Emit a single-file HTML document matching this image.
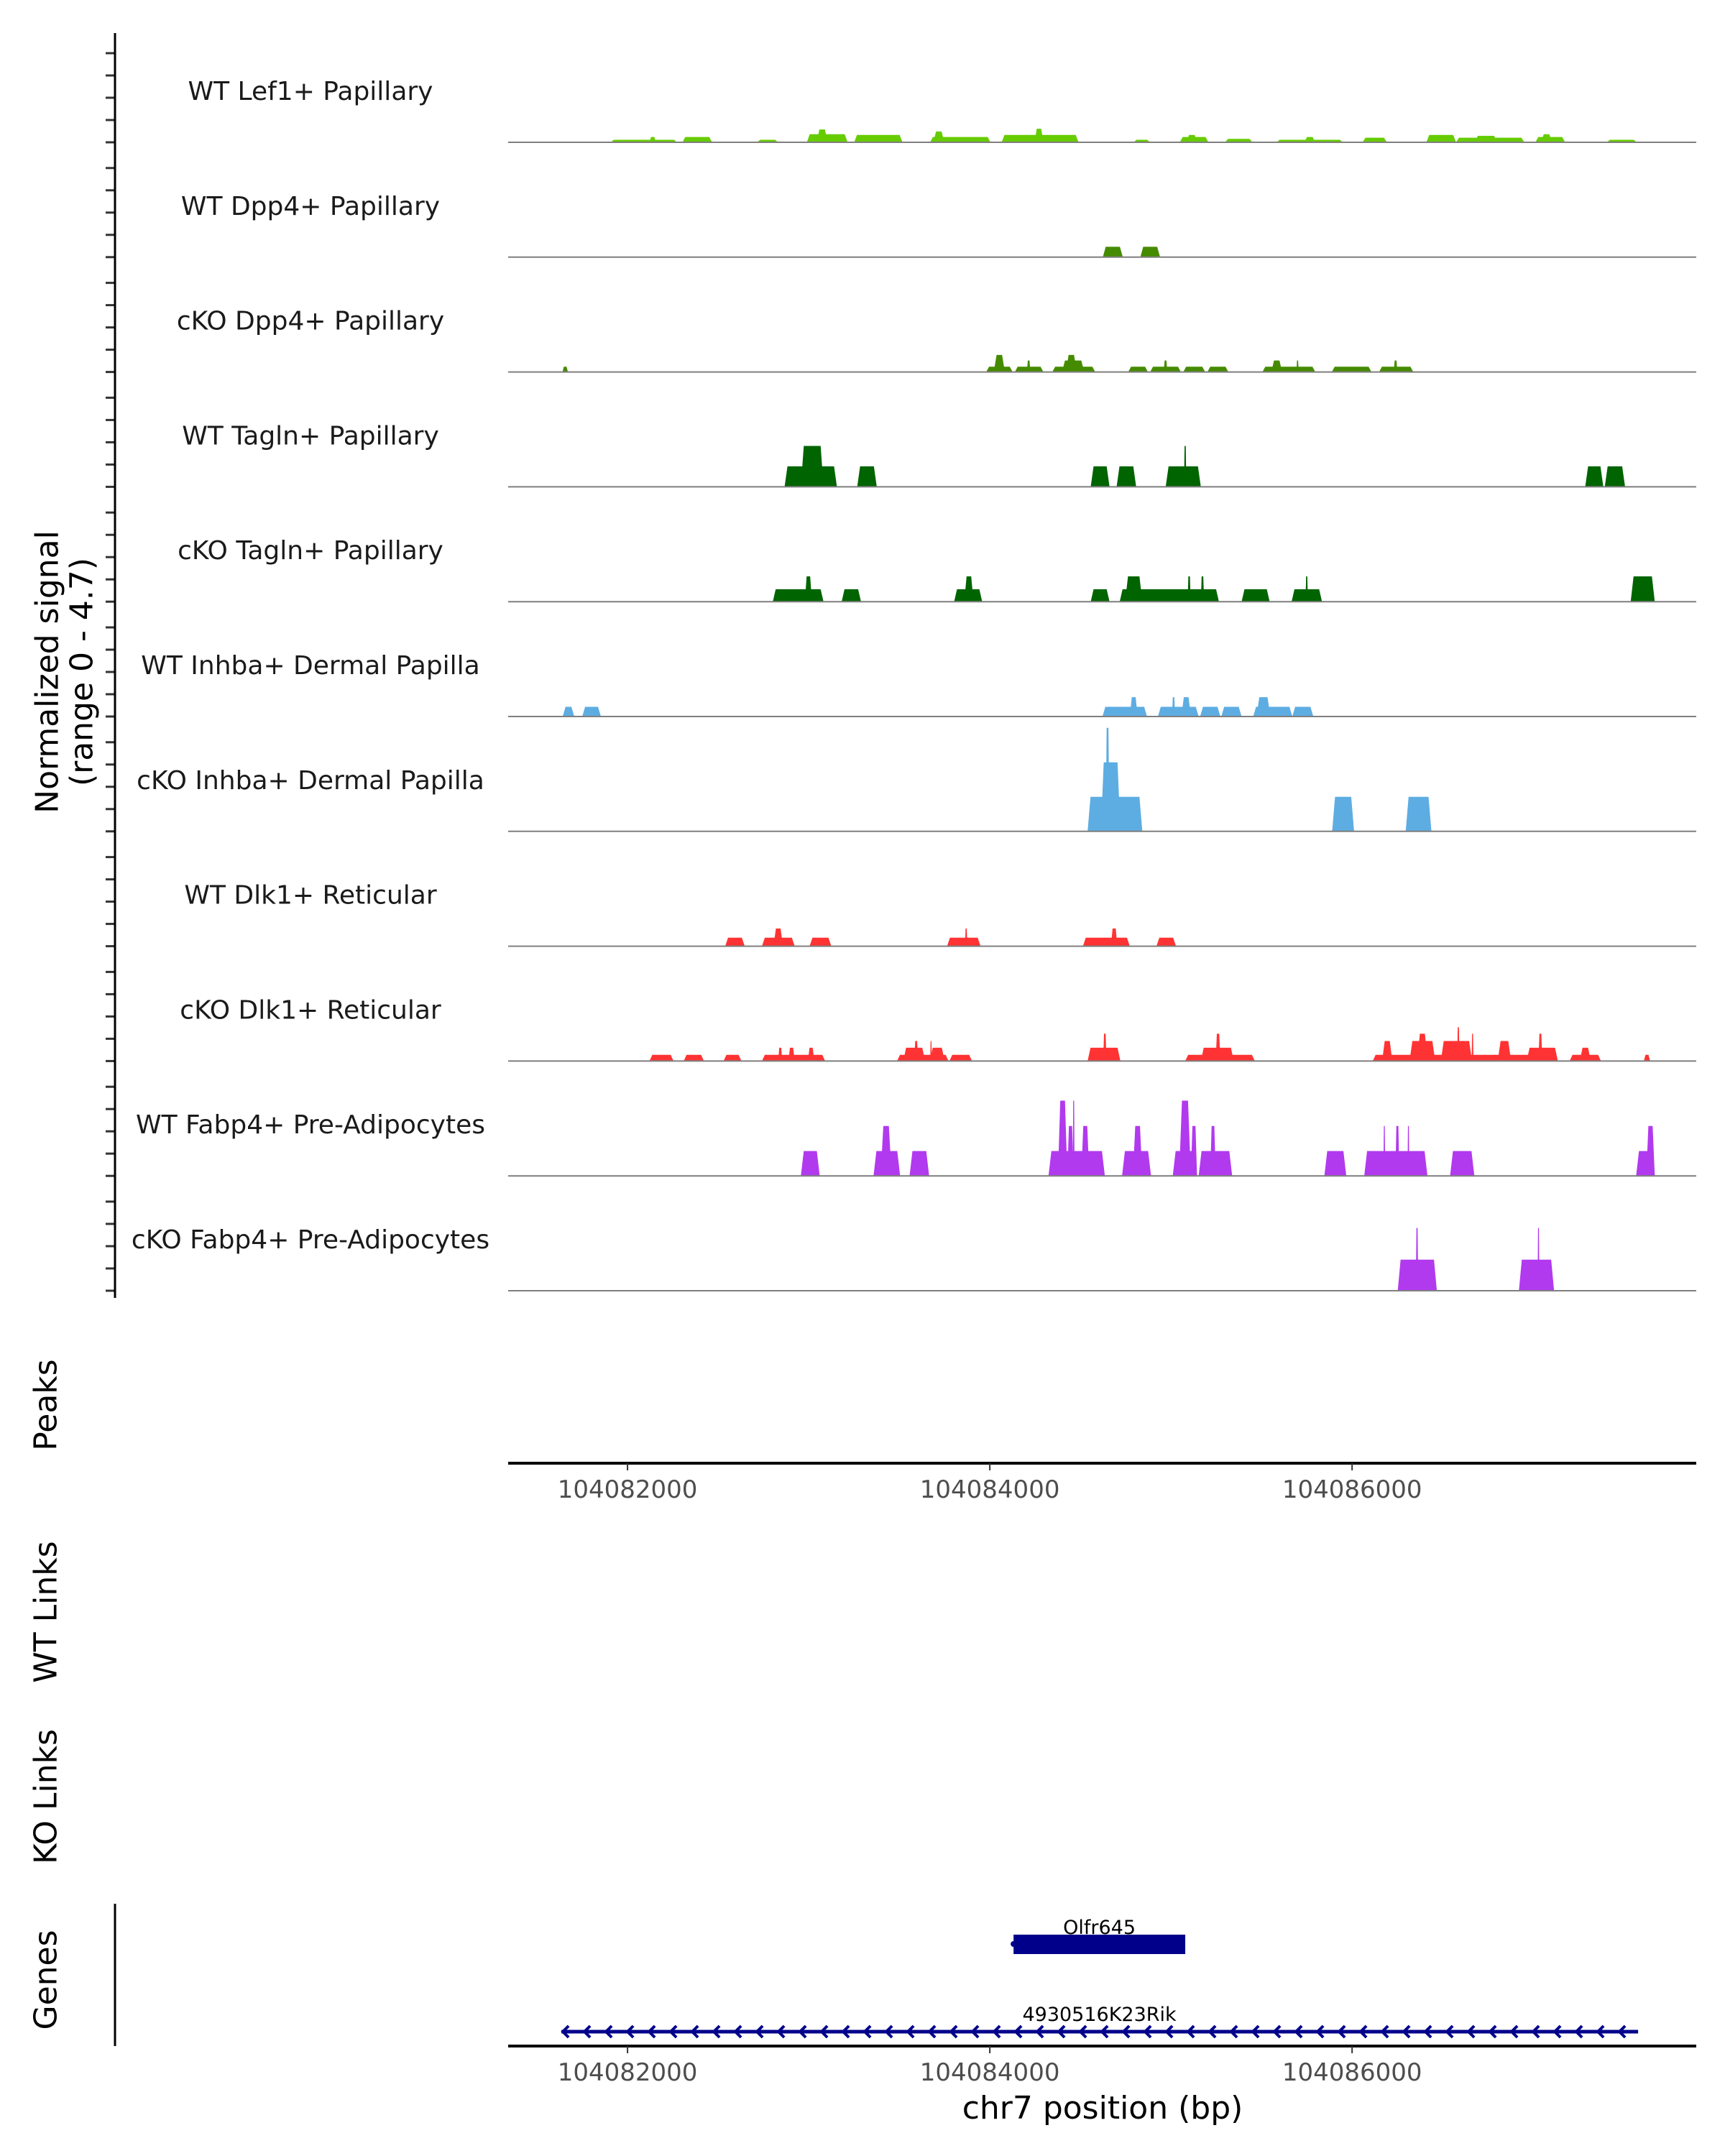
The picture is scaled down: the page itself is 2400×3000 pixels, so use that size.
<!DOCTYPE html>
<html><head><meta charset="utf-8">
<style>
html,body{margin:0;padding:0;background:#fff;}
svg{display:block;font-family:"DejaVu Sans","Liberation Sans",sans-serif;}
</style></head>
<body>
<svg id="chart" width="2400" height="3000" viewBox="0 0 2400 3000" xmlns="http://www.w3.org/2000/svg">
<g id="tracks"></g>
<g id="axes"></g>
<g id="genes"></g>
</svg>
<script>
// Genomic positions are offsets in bp from 104080000
const regionStart = 1341;
const regionEnd = 7900;
const trackNames = ["WT Lef1+ Papillary","WT Dpp4+ Papillary","cKO Dpp4+ Papillary","WT Tagln+ Papillary","cKO Tagln+ Papillary","WT Inhba+ Dermal Papilla","cKO Inhba+ Dermal Papilla","WT Dlk1+ Reticular","cKO Dlk1+ Reticular","WT Fabp4+ Pre-Adipocytes","cKO Fabp4+ Pre-Adipocytes"];
const trackColors = ["#66cc00","#458b00","#458b00","#006400","#006400","#5dade2","#5dade2","#ff3333","#ff3333","#b23aee","#b23aee"];
// segments: [start, end, signal]
const segLef1 = [[1908,2273,0.11],[2121,2157,0.23],[2303,2467,0.23],[2716,2831,0.11],[2990,3215,0.35],[3044,3105,0.56],[3251,3518,0.32],[3670,4004,0.23],[3688,3749,0.47],[4065,4490,0.32],[4247,4296,0.59],[4794,4885,0.11],[5049,5207,0.23],[5085,5146,0.32],[5299,5450,0.15],[5584,5949,0.11],[5736,5797,0.23],[6058,6192,0.2],[6410,6574,0.32],[6574,6951,0.2],[6678,6800,0.28],[7012,7176,0.23],[7043,7104,0.35],[7407,7571,0.11]];
const segDpp4WT = [[4624,4734,0.45],[4831,4940,0.45]];
const segDpp4KO = [[1641,1671,0.23],[3980,4126,0.23],[4022,4083,0.74],[4138,4296,0.23],[4205,4224,0.5],[4345,4582,0.23],[4399,4521,0.5],[4420,4480,0.74],[4764,4873,0.23],[4885,5055,0.23],[4960,4980,0.5],[5068,5189,0.23],[5201,5317,0.23],[5505,5797,0.23],[5554,5614,0.5],[5693,5705,0.5],[5888,6107,0.23],[6149,6338,0.23],[6230,6250,0.5]];
const segTaglnWT = [[2867,3156,0.89],[2957,3082,1.78],[3268,3376,0.89],[4557,4661,0.89],[4700,4808,0.89],[4971,5165,0.89],[5072,5085,1.78],[7287,7387,0.89],[7395,7507,0.89]];
const segTaglnKO = [[2802,3082,0.54],[2979,3018,1.1],[3182,3289,0.54],[3803,3958,0.54],[3859,3910,1.1],[4557,4661,0.54],[4717,5265,0.54],[4747,4842,1.1],[5092,5109,1.1],[5165,5183,1.1],[5390,5545,0.54],[5666,5834,0.54],[5743,5756,1.1],[7538,7671,1.1]];
const segInhbaWT = [[1642,1706,0.42],[1750,1853,0.42],[4622,4868,0.42],[4773,4816,0.84],[4928,5153,0.42],[5006,5023,0.84],[5058,5110,0.84],[5161,5273,0.42],[5278,5390,0.42],[5454,5670,0.42],[5472,5549,0.84],[5670,5786,0.42]];
const segInhbaKO = [[4540,4842,1.5],[4613,4721,3.0],[4640,4660,4.5],[5890,6011,1.5],[6296,6438,1.5]];
const segDlk1WT = [[2539,2647,0.37],[2742,2923,0.37],[2806,2858,0.77],[3005,3125,0.37],[3764,3949,0.37],[3863,3876,0.77],[4514,4773,0.37],[4669,4704,0.77],[4920,5028,0.37]];
const segDlk1KO = [[2121,2254,0.27],[2310,2422,0.27],[2530,2629,0.27],[2742,3091,0.27],[2832,2854,0.58],[2888,2923,0.58],[2996,3031,0.58],[3488,3772,0.27],[3522,3643,0.58],[3583,3604,0.87],[3669,3751,0.58],[3671,3680,0.87],[3777,3902,0.27],[4540,4721,0.58],[4626,4644,1.19],[5079,5463,0.27],[5165,5347,0.58],[5247,5273,1.19],[6114,7136,0.27],[6166,6222,0.87],[6317,6459,0.87],[6360,6416,1.19],[6490,6662,0.87],[6580,6593,1.47],[6660,6670,1.19],[6804,6878,0.87],[6964,7136,0.58],[7029,7050,1.19],[7201,7374,0.27],[7257,7318,0.58],[7611,7645,0.27]];
const segFabp4WT = [[2957,3061,1.08],[3358,3505,1.08],[3397,3458,2.17],[3557,3665,1.08],[4324,4635,1.08],[4376,4428,3.27],[4428,4463,2.17],[4458,4468,3.27],[4505,4549,2.17],[4730,4890,1.08],[4790,4842,2.17],[5010,5144,1.08],[5045,5110,3.27],[5110,5144,2.17],[5153,5338,1.08],[5217,5247,2.17],[5847,5968,1.08],[6067,6416,1.08],[6173,6183,2.17],[6239,6261,2.17],[6306,6316,2.17],[6541,6675,1.08],[7568,7671,1.08],[7624,7671,2.17]];
const segFabp4KO = [[6252,6468,1.35],[6352,6365,2.73],[6921,7115,1.35],[7024,7034,2.73]];
const trackSegs = [segLef1,segDpp4WT,segDpp4KO,segTaglnWT,segTaglnKO,segInhbaWT,segInhbaKO,segDlk1WT,segDlk1KO,segFabp4WT,segFabp4KO];
const xTicks = [2000,4000,6000];
const xTickLabels = ["104082000","104084000","104086000"];
const geneNames = ["Olfr645","4930516K23Rik"];
const geneStarts = [4131,1635];
const geneEnds = [5079,7579];

const NS="http://www.w3.org/2000/svg";
const X0=707, X1=2360;
function xs(bp){return X0+(bp-regionStart)/(regionEnd-regionStart)*(X1-X0);}
const PX_PER_UNIT=32;
function ys(base,v){return base-v*PX_PER_UNIT;}
function mk(tag,attrs,parent){const e=document.createElementNS(NS,tag);for(const k in attrs)e.setAttribute(k,attrs[k]);parent.appendChild(e);return e;}
const gT=document.getElementById('tracks'), gA=document.getElementById('axes'), gG=document.getElementById('genes');
const base0=198, step=159.8;
trackNames.forEach((nm,i)=>{
  const b=base0+step*i;
  const g=mk('g',{},gT);
  
  
  const t=mk('text',{x:432,y:b-59,'text-anchor':'middle','font-size':36,fill:'#1a1a1a'},g);
  t.textContent=nm;
  
  
  trackSegs[i].forEach(s=>{
    const xa=xs(s[0]), xb=xs(s[1]), yv=ys(b,s[2]);
    const r=Math.min(4,(xb-xa)/4);
    const p=mk('polygon',{points:`${xa},${b} ${xa+r},${yv} ${xb-r},${yv} ${xb},${b}`,fill:trackColors[i]},g);
    
    
  });
  const bl=mk('line',{x1:X0,x2:X1,y1:b,y2:b,stroke:'#7f7f7f','stroke-width':2},g);
  
  
  for(let k=0;k<5;k++){
    const tk=mk('line',{x1:147,x2:159,y1:b-31*k,y2:b-31*k,stroke:'#333','stroke-width':3},gA);
    
    
  }
});
const ya=mk('line',{x1:160,x2:160,y1:46,y2:1806,stroke:'#000','stroke-width':3},gA);


function vtext(txt,x,y,name){const t=mk('text',{x:0,y:0,transform:`translate(${x},${y}) rotate(-90)`,'text-anchor':'middle','dominant-baseline':'central','font-size':44,fill:'#000'},gA);t.textContent=txt;}
vtext('Normalized signal',66,935,'y-axis-title');
vtext('(range 0 - 4.7)',114,935,'y-axis-range');
vtext('Peaks',64,1955,'peaks-title');
vtext('WT Links',64,2243,'wt-links-title');
vtext('KO Links',64,2500,'ko-links-title');
vtext('Genes',64,2755,'genes-title');
function xaxis(y,name){
  const l=mk('line',{x1:X0,x2:X1,y1:y,y2:y,stroke:'#000','stroke-width':4},gA);
  
  
  xTicks.forEach((v,i)=>{
    const tk=mk('line',{x1:xs(v),x2:xs(v),y1:y,y2:y+10,stroke:'#333','stroke-width':2},gA);
    
    
    const t=mk('text',{x:xs(v),y:y+48,'text-anchor':'middle','font-size':34,fill:'#4d4d4d'},gA);
    t.textContent=xTickLabels[i];
    
    
  });
}
xaxis(2036,'peaks-x-axis');
xaxis(2847,'genes-x-axis');
const gl=mk('line',{x1:160,x2:160,y1:2649,y2:2847,stroke:'#000','stroke-width':3},gA);


const xt=mk('text',{x:1534,y:2948,'text-anchor':'middle','font-size':44,fill:'#000'},gA);
xt.textContent='chr7 position (bp)';


// genes
const ga=xs(geneStarts[0]), gb=xs(geneEnds[0]);
const box=mk('rect',{x:ga,y:2692,width:gb-ga,height:27,fill:'#00008b'},gG);


mk('circle',{cx:ga,cy:2705,r:4,fill:'#00008b'},gG);
const l1=mk('text',{x:(ga+gb)/2,y:2691,'text-anchor':'middle','font-size':27,fill:'#000'},gG);
l1.textContent=geneNames[0];


const la=xs(geneStarts[1]), lb=xs(geneEnds[1]);
const gline=mk('line',{x1:la,x2:lb,y1:2827,y2:2827,stroke:'#00008b','stroke-width':5},gG);


let chev='';
for(let x=la;x<=lb-10;x+=30){chev+=`M${x+10},${2819} L${x+2},${2827} L${x+10},${2835} `;}
const ch=mk('path',{d:chev,stroke:'#00008b','stroke-width':4,fill:'none'},gG);


const l2=mk('text',{x:(ga+gb)/2,y:2812,'text-anchor':'middle','font-size':27,fill:'#000'},gG);
l2.textContent=geneNames[1];


</script>
</body></html>
